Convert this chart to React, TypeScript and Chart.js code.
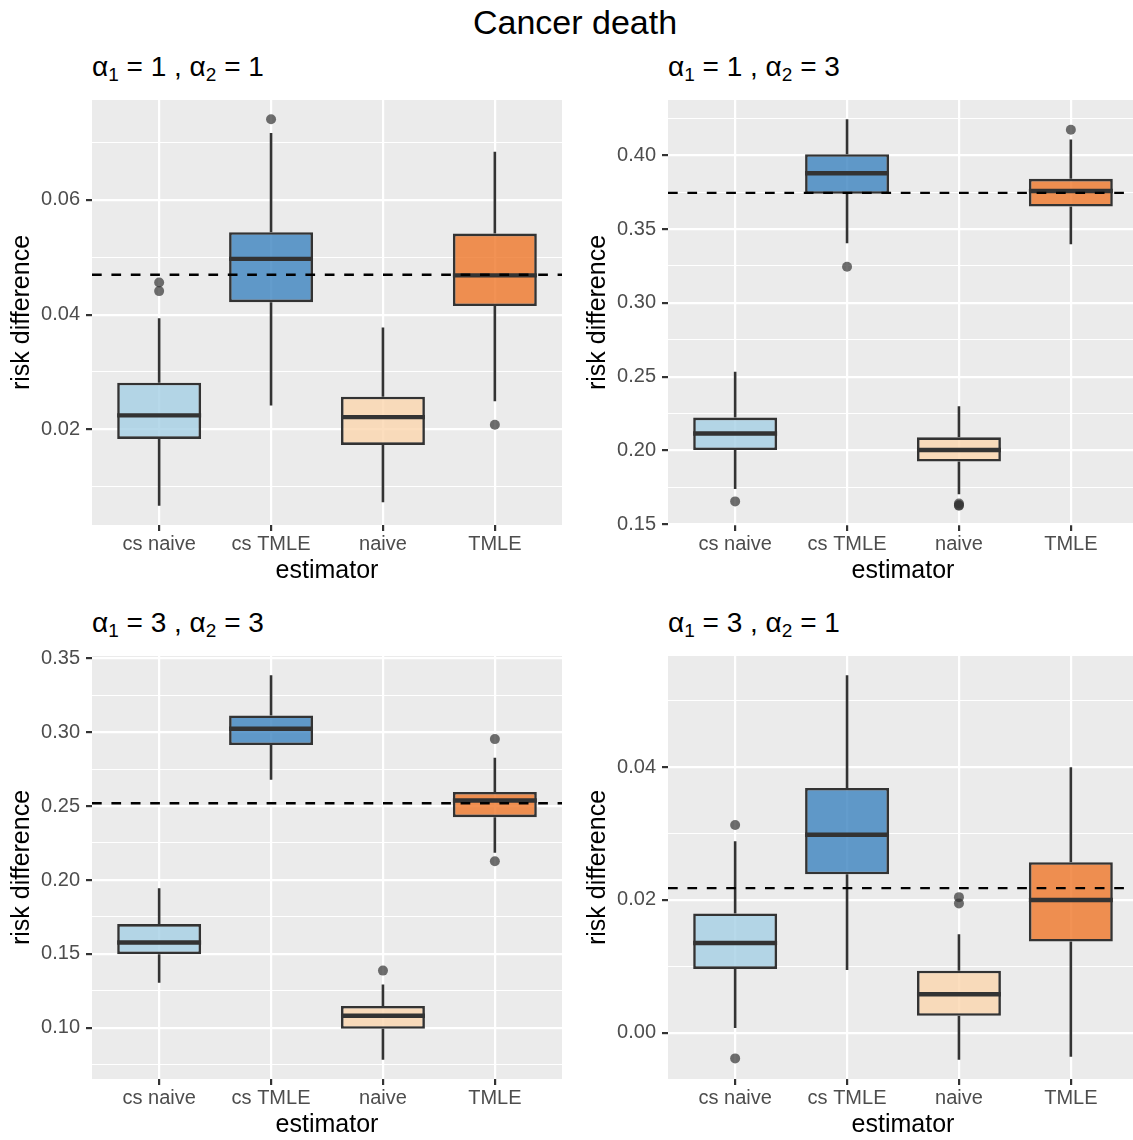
import React, { useEffect, useRef } from "react";
import { Chart, registerables } from "chart.js";

Chart.register(...registerables);
Chart.defaults.font.family = "'Liberation Sans', Arial, Helvetica, sans-serif";

// ---------- shared ----------
const CATEGORIES = ["cs naive", "cs TMLE", "naive", "TMLE"];
const FILLS = [
  "rgba(165,207,229,0.8)",
  "rgba(60,131,191,0.8)",
  "rgba(251,214,174,0.8)",
  "rgba(239,119,41,0.8)",
];
const BOX_WIDTH = 0.75;
const MAIN_TITLE = "Cancer death";
const X_TITLE = "estimator";
const Y_TITLE = "risk difference";

// ---------- panel A: alpha1 = 1, alpha2 = 1 ----------
const A_ALPHA = ["1", "1"];
const A_LO = [0.00671, 0.02417, 0.00732, 0.0249];
const A_Q1 = [0.01835, 0.04217, 0.0173, 0.0415];
const A_MED = [0.02245, 0.04971, 0.02214, 0.04683];
const A_Q3 = [0.02815, 0.05436, 0.0257, 0.05412];
const A_HI = [0.03936, 0.07164, 0.03776, 0.06839];
const A_OUT_X = [1, 1, 2, 4];
const A_OUT_Y = [0.0456, 0.0441, 0.07403, 0.0208];
const A_REF = 0.04695;
const A_MAJOR = [0.02, 0.04, 0.06];
const A_LABELS = ["0.02", "0.04", "0.06"];
const A_MINOR = [0.01, 0.03, 0.05, 0.07];

// ---------- panel B: alpha1 = 1, alpha2 = 3 ----------
const B_ALPHA = ["1", "3"];
const B_LO = [0.1739, 0.3404, 0.1703, 0.3396];
const B_Q1 = [0.2003, 0.3738, 0.1925, 0.3652];
const B_MED = [0.2115, 0.3878, 0.2003, 0.3757];
const B_Q3 = [0.2223, 0.4007, 0.2089, 0.384];
const B_HI = [0.2533, 0.4243, 0.2299, 0.4107];
const B_OUT_X = [1, 2, 3, 3, 3, 4];
const B_OUT_Y = [0.1655, 0.3244, 0.1641, 0.163, 0.1626, 0.4172];
const B_REF = 0.3745;
const B_MAJOR = [0.15, 0.2, 0.25, 0.3, 0.35, 0.4];
const B_LABELS = ["0.15", "0.20", "0.25", "0.30", "0.35", "0.40"];
const B_MINOR = [0.175, 0.225, 0.275, 0.325, 0.375, 0.425];

// ---------- panel C: alpha1 = 3, alpha2 = 3 ----------
const C_ALPHA = ["3", "3"];
const C_LO = [0.1305, 0.2678, 0.0784, 0.2185];
const C_Q1 = [0.1498, 0.2913, 0.0993, 0.2425];
const C_MED = [0.1577, 0.3023, 0.1082, 0.2538];
const C_Q3 = [0.1702, 0.3113, 0.1148, 0.2596];
const C_HI = [0.1944, 0.3385, 0.1293, 0.2826];
const C_OUT_X = [3, 4, 4];
const C_OUT_Y = [0.1387, 0.2953, 0.2127];
const C_REF = 0.2519;
const C_MAJOR = [0.1, 0.15, 0.2, 0.25, 0.3, 0.35];
const C_LABELS = ["0.10", "0.15", "0.20", "0.25", "0.30", "0.35"];
const C_MINOR = [0.075, 0.125, 0.175, 0.225, 0.275, 0.325];

// ---------- panel D: alpha1 = 3, alpha2 = 1 ----------
const D_ALPHA = ["3", "1"];
const D_LO = [0.00073, 0.00945, -0.00407, -0.0036];
const D_Q1 = [0.00961, 0.02386, 0.00256, 0.01373];
const D_MED = [0.01352, 0.02982, 0.0058, 0.02];
const D_Q3 = [0.01796, 0.03687, 0.00935, 0.02569];
const D_HI = [0.02883, 0.05384, 0.01483, 0.04];
const D_OUT_X = [1, 1, 3, 3];
const D_OUT_Y = [0.03128, -0.00386, 0.02042, 0.01948];
const D_REF = 0.02178;
const D_MAJOR = [0.0, 0.02, 0.04];
const D_LABELS = ["0.00", "0.02", "0.04"];
const D_MINOR = [0.01, 0.03, 0.05];

type PanelSpec = {
  alpha: string[];
  lo: number[];
  q1: number[];
  med: number[];
  q3: number[];
  hi: number[];
  outX: number[];
  outY: number[];
  ref: number;
  major: number[];
  labels: string[];
  minor: number[];
  left: number;
  chartTop: number;
  chartH: number;
};

// layout
const PAD_TOP = 20;
const PAD_RIGHT = 5;
const Y_AXIS_W = 92;
const X_AXIS_H = 62;
const CANVAS_W = 567;

const PANELS: PanelSpec[] = [
  { alpha: A_ALPHA, lo: A_LO, q1: A_Q1, med: A_MED, q3: A_Q3, hi: A_HI, outX: A_OUT_X, outY: A_OUT_Y, ref: A_REF, major: A_MAJOR, labels: A_LABELS, minor: A_MINOR, left: 0, chartTop: 100, chartH: 425 },
  { alpha: B_ALPHA, lo: B_LO, q1: B_Q1, med: B_MED, q3: B_Q3, hi: B_HI, outX: B_OUT_X, outY: B_OUT_Y, ref: B_REF, major: B_MAJOR, labels: B_LABELS, minor: B_MINOR, left: 576, chartTop: 100, chartH: 425 },
  { alpha: C_ALPHA, lo: C_LO, q1: C_Q1, med: C_MED, q3: C_Q3, hi: C_HI, outX: C_OUT_X, outY: C_OUT_Y, ref: C_REF, major: C_MAJOR, labels: C_LABELS, minor: C_MINOR, left: 0, chartTop: 656, chartH: 423 },
  { alpha: D_ALPHA, lo: D_LO, q1: D_Q1, med: D_MED, q3: D_Q3, hi: D_HI, outX: D_OUT_X, outY: D_OUT_Y, ref: D_REF, major: D_MAJOR, labels: D_LABELS, minor: D_MINOR, left: 576, chartTop: 656, chartH: 423 },
];

const panelBg = {
  id: "panelBg",
  beforeDraw(chart: any) {
    const { ctx, chartArea } = chart;
    if (!chartArea) return;
    ctx.save();
    ctx.fillStyle = "#EBEBEB";
    ctx.fillRect(chartArea.left, chartArea.top, chartArea.right - chartArea.left, chartArea.bottom - chartArea.top);
    ctx.restore();
  },
};

function BoxPanel({ p }: { p: PanelSpec }) {
  const ref = useRef<HTMLCanvasElement>(null);
  const height = PAD_TOP + p.chartH + X_AXIS_H;

  useEffect(() => {
    if (!ref.current) return;
    const all = [...p.lo, ...p.hi, ...p.outY];
    const dmin = Math.min(...all);
    const dmax = Math.max(...all);
    const expand = (dmax - dmin) * 0.05;
    const yMin = dmin - expand;
    const yMax = dmax + expand;
    const xs = CATEGORIES.map((_, i) => i + 1);
    const xMin = 0.4;
    const xMax = CATEGORIES.length + 0.6;
    const half = BOX_WIDTH / 2;
    const isMajor = (v: number) => p.major.some((m) => Math.abs(m - v) < 1e-9);

    const medianPts: any[] = [];
    const whiskerPts: any[] = [];
    xs.forEach((x, i) => {
      medianPts.push({ x: x - half, y: p.med[i] }, { x: x + half, y: p.med[i] }, { x: x + half, y: null });
      whiskerPts.push(
        { x, y: p.q3[i] }, { x, y: p.hi[i] }, { x, y: null },
        { x, y: p.lo[i] }, { x, y: p.q1[i] }, { x, y: null }
      );
    });

    const yTicks = [...p.minor, ...p.major]
      .filter((v) => v >= yMin && v <= yMax)
      .sort((a, b) => a - b);

    const chart = new Chart(ref.current, {
      type: "bar",
      data: {
        datasets: [
          {
            type: "line",
            data: [{ x: xMin, y: p.ref }, { x: xMax, y: p.ref }],
            borderColor: "#000000",
            borderWidth: 2.4,
            borderDash: [9.7, 9.7],
            pointRadius: 0,
            order: 0,
          } as any,
          {
            type: "scatter",
            data: p.outX.map((x, i) => ({ x, y: p.outY[i] })),
            pointRadius: 5,
            backgroundColor: "rgba(51,51,51,0.7)",
            borderColor: "rgba(0,0,0,0)",
            borderWidth: 0,
            order: 1,
          } as any,
          {
            type: "line",
            data: medianPts,
            borderColor: "#333333",
            borderWidth: 4.4,
            pointRadius: 0,
            spanGaps: false,
            order: 2,
          } as any,
          {
            type: "bar",
            data: xs.map((x, i) => ({ x, y: [p.q1[i], p.q3[i]] })),
            backgroundColor: FILLS,
            borderColor: "#333333",
            borderWidth: 2.6,
            borderSkipped: false,
            categoryPercentage: 1,
            barPercentage: BOX_WIDTH,
            order: 3,
          } as any,
          {
            type: "line",
            data: whiskerPts,
            borderColor: "#333333",
            borderWidth: 2.6,
            pointRadius: 0,
            spanGaps: false,
            order: 4,
          } as any,
        ],
      },
      options: {
        responsive: false,
        animation: false,
        events: [],
        layout: { padding: { top: PAD_TOP, right: PAD_RIGHT, bottom: 0, left: 0 } },
        plugins: {
          legend: { display: false },
          tooltip: { enabled: false },
          title: { display: false },
        },
        scales: {
          x: {
            type: "linear",
            min: xMin,
            max: xMax,
            offset: false,
            afterBuildTicks: (s: any) => {
              s.ticks = xs.map((v) => ({ value: v }));
            },
            afterFit: (s: any) => {
              s.height = X_AXIS_H;
            },
            ticks: {
              callback: (_v: any, i: number) => CATEGORIES[i],
              font: { size: 20 },
              color: "#4D4D4D",
              padding: 1,
              maxRotation: 0,
              autoSkip: false,
            },
            grid: {
              color: "#FFFFFF",
              lineWidth: 2.2,
              tickColor: "#333333",
              tickLength: 6,
              tickWidth: 2.2,
              offset: false,
            },
            border: { display: false },
            title: {
              display: true,
              text: X_TITLE,
              font: { size: 25 },
              color: "#000000",
              padding: { top: 0, bottom: 0.5 },
            },
          },
          y: {
            type: "linear",
            min: yMin,
            max: yMax,
            beginAtZero: false,
            afterBuildTicks: (s: any) => {
              s.ticks = yTicks.map((v) => ({ value: v }));
            },
            afterFit: (s: any) => {
              s.width = Y_AXIS_W;
            },
            ticks: {
              callback: (v: any) => {
                const k = p.major.findIndex((m) => Math.abs(m - Number(v)) < 1e-9);
                return k >= 0 ? p.labels[k] : "";
              },
              font: { size: 20 },
              color: "#4D4D4D",
              padding: 6,
              autoSkip: false,
            },
            grid: {
              color: "#FFFFFF",
              lineWidth: (c: any) => (c.tick && !isMajor(c.tick.value) ? 1.1 : 2.2),
              tickColor: (c: any) => (c.tick && !isMajor(c.tick.value) ? "rgba(0,0,0,0)" : "#333333"),
              tickLength: 6,
              tickWidth: 2.2,
            },
            border: { display: false },
            title: {
              display: true,
              text: Y_TITLE,
              font: { size: 25 },
              color: "#000000",
              padding: { top: 7, bottom: 0 },
            },
          },
        },
      } as any,
      plugins: [panelBg],
    });
    return () => chart.destroy();
  }, []);

  const subStyle: React.CSSProperties = { fontSize: 19, position: "relative", top: 5 };

  return (
    <>
      <div
        style={{
          position: "absolute",
          left: p.left + Y_AXIS_W,
          top: p.chartTop - 47,
          fontSize: 28,
          lineHeight: "28px",
          whiteSpace: "pre",
          color: "#000",
        }}
      >
        α<span style={subStyle}>1</span>
        {" = " + p.alpha[0] + " , "}α
        <span style={subStyle}>2</span>
        {" = " + p.alpha[1]}
      </div>
      <canvas
        ref={ref}
        width={CANVAS_W}
        height={height}
        style={{
          position: "absolute",
          left: p.left,
          top: p.chartTop - PAD_TOP,
          width: CANVAS_W,
          height,
        }}
      />
    </>
  );
}

export default function App() {
  return (
    <div
      style={{
        position: "absolute",
        left: 0,
        top: 0,
        width: 1133,
        height: 1140,
        overflow: "hidden",
        background: "#FFFFFF",
        fontFamily: "'Liberation Sans', Arial, Helvetica, sans-serif",
      }}
    >
      <div
        style={{
          position: "absolute",
          left: 0,
          top: 5,
          width: 1150,
          textAlign: "center",
          fontSize: 34,
          lineHeight: "34px",
          color: "#000",
        }}
      >
        {MAIN_TITLE}
      </div>
      {PANELS.map((p, i) => (
        <BoxPanel key={i} p={p} />
      ))}
    </div>
  );
}
